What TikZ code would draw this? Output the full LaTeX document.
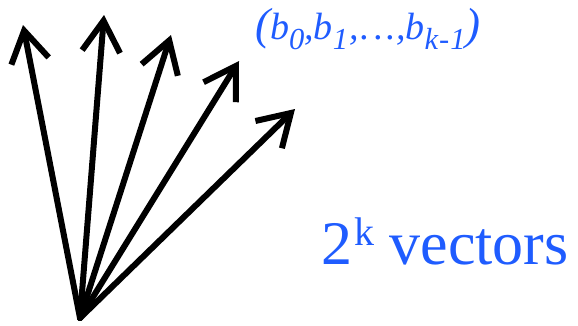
\documentclass[tikz,border=0pt]{standalone}
\usepackage{fontspec}
\setmainfont{Liberation Serif}
\usetikzlibrary{arrows.meta}
\definecolor{vblue}{RGB}{31,92,255}
\newcommand\mysub[1]{\raisebox{-10pt}{\fontsize{30.5}{30.5}\selectfont #1}}
\newcommand\mypar[1]{{\fontsize{45}{45}\selectfont #1}}
\tikzset{
  vec/.style={line width=6pt, -{Straight Barb[length=31pt,width=38pt,line width=6pt]}, line cap=round},
  lbl/.style={text=vblue, inner sep=0pt, anchor=base west}
}
\begin{document}
\begin{tikzpicture}[x=1pt,y=-1pt]
\useasboundingbox (0,0) rectangle (578,325);
\coordinate (o) at (80,318);
\coordinate (t1) at (23,25);
\coordinate (t2) at (104,15);
\coordinate (t3) at (171,35);
\coordinate (t4) at (239,61);
\coordinate (t5) at (295,109);
\foreach \t in {t1,t2,t3,t4,t5} \draw[vec] (o) -- (\t);
\node[lbl, font=\fontsize{38}{42}\selectfont\itshape] (lab1) at (255,39)
  {\mypar{(}b\mysub{0},b\mysub{1}\kern1pt,\kern2pt.\kern4pt.\kern3pt.\kern0pt,b\mysub{k\kern1pt-\kern1pt1}\mypar{)}};
\node[lbl, font=\fontsize{62}{70}\selectfont] (lab2) at (321,264)
  {2\kern2pt\raisebox{19pt}{\fontsize{40}{40}\selectfont k} vectors};
\end{tikzpicture}
\end{document}
